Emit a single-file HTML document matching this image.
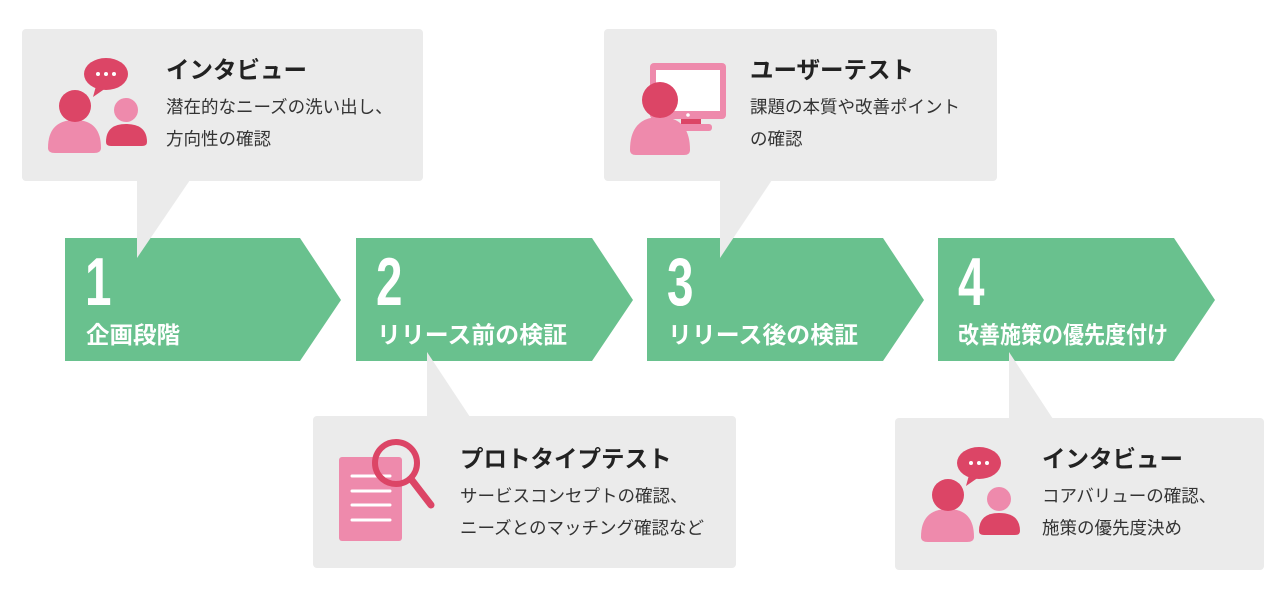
<!DOCTYPE html>
<html><head><meta charset="utf-8"><style>
html,body{margin:0;padding:0;background:#fff;}
svg{display:block;}
.t{font-family:"Liberation Sans","Noto Sans CJK JP",sans-serif;}
.ti{font-size:23.5px;font-weight:bold;fill:#222;}
.d{font-size:17.5px;fill:#333;}
.n{font-size:68px;font-weight:bold;fill:#fff;}
.l{font-size:23.5px;font-weight:bold;fill:#fff;}
</style></head><body>
<svg width="1280" height="600" viewBox="0 0 1280 600" xmlns="http://www.w3.org/2000/svg">
<defs>
<g id="iv">
<ellipse cx="106" cy="74" rx="22" ry="16" fill="#dc4566"/>
<path d="M96 86 L93 97 L106 88 Z" fill="#dc4566"/>
<circle cx="98" cy="74" r="2" fill="#fff"/><circle cx="106" cy="74" r="2" fill="#fff"/><circle cx="114" cy="74" r="2" fill="#fff"/>
<path d="M48 148 Q48 120 75 120 Q101 120 101 148 Q101 153 94 153 L55 153 Q48 153 48 148 Z" fill="#ee8aac"/>
<circle cx="75" cy="106" r="16" fill="#dc4566"/>
<path d="M106 142 Q106 124 126 124 Q147 124 147 142 Q147 146 142 146 L111 146 Q106 146 106 142 Z" fill="#dc4566"/>
<circle cx="126" cy="110" r="12" fill="#ee8aac"/>
</g>
</defs>
<g fill="#69c18e">
<polygon points="65,238 300,238 341,300 300,361 65,361"/>
<polygon points="356,238 592,238 633,300 592,361 356,361"/>
<polygon points="647,238 883,238 924,300 883,361 647,361"/>
<polygon points="938,238 1174,238 1215,300 1174,361 938,361"/>
</g>
<g fill="#ebebeb">
<rect x="22" y="29" width="401" height="152" rx="4"/>
<polygon points="137,180 190,180 137,258"/>
<rect x="604" y="29" width="393" height="152" rx="4"/>
<polygon points="720,180 772,180 720,258"/>
<rect x="313" y="416" width="423" height="152" rx="4"/>
<polygon points="427,417 470,417 427,352"/>
<rect x="895" y="418" width="369" height="152" rx="4"/>
<polygon points="1009,419 1053,419 1009,352"/>
</g>
<g class="t">
<text class="n" transform="translate(85,305) scale(0.7,1)">1</text>
<text class="n" transform="translate(376,305) scale(0.7,1)">2</text>
<text class="n" transform="translate(667,305) scale(0.7,1)">3</text>
<text class="n" transform="translate(958,305) scale(0.7,1)">4</text>
<text class="l" x="86" y="343">企画段階</text>
<text class="l" x="377" y="343" textLength="190" lengthAdjust="spacingAndGlyphs">リリース前の検証</text>
<text class="l" x="668" y="343" textLength="190" lengthAdjust="spacingAndGlyphs">リリース後の検証</text>
<text class="l" x="958" y="343" textLength="210" lengthAdjust="spacingAndGlyphs">改善施策の優先度付け</text>
</g>
<use href="#iv"/>
<use href="#iv" transform="translate(873,389)"/>
<rect x="650" y="63" width="76" height="56" rx="4" fill="#ee8aac"/>
<rect x="656" y="70" width="64" height="41" fill="#fff"/>
<circle cx="688" cy="115" r="1.8" fill="#fff"/>
<rect x="681" y="119" width="20" height="6" fill="#dc4566"/>
<rect x="676" y="124" width="36" height="7" rx="3" fill="#ee8aac"/>
<path d="M630 150 Q630 117 660 117 Q690 117 690 150 Q690 155 684 155 L636 155 Q630 155 630 150 Z" fill="#ee8aac"/>
<circle cx="660" cy="100" r="18" fill="#dc4566"/>
<rect x="339" y="457" width="63" height="84" rx="3" fill="#ee8aac"/>
<g stroke="#fff" stroke-width="3" stroke-linecap="round"><line x1="352" y1="476" x2="390" y2="476"/><line x1="352" y1="491" x2="390" y2="491"/><line x1="352" y1="505" x2="390" y2="505"/><line x1="352" y1="520" x2="390" y2="520"/></g>
<circle cx="396" cy="463" r="21" fill="none" stroke="#dc4566" stroke-width="6"/>
<line x1="411" y1="479" x2="431" y2="505" stroke="#dc4566" stroke-width="7" stroke-linecap="round"/>
<g class="t">
<text class="ti" x="166" y="78">インタビュー</text>
<text class="d" x="166" y="113">潜在的なニーズの洗い出し、</text>
<text class="d" x="166" y="145">方向性の確認</text>
<text class="ti" x="750" y="78">ユーザーテスト</text>
<text class="d" x="750" y="113">課題の本質や改善ポイント</text>
<text class="d" x="750" y="145">の確認</text>
<text class="ti" x="460" y="467">プロトタイプテスト</text>
<text class="d" x="460" y="502">サービスコンセプトの確認、</text>
<text class="d" x="460" y="534">ニーズとのマッチング確認など</text>
<text class="ti" x="1042" y="467">インタビュー</text>
<text class="d" x="1042" y="502">コアバリューの確認、</text>
<text class="d" x="1042" y="534">施策の優先度決め</text>
</g>
</svg>
</body></html>
